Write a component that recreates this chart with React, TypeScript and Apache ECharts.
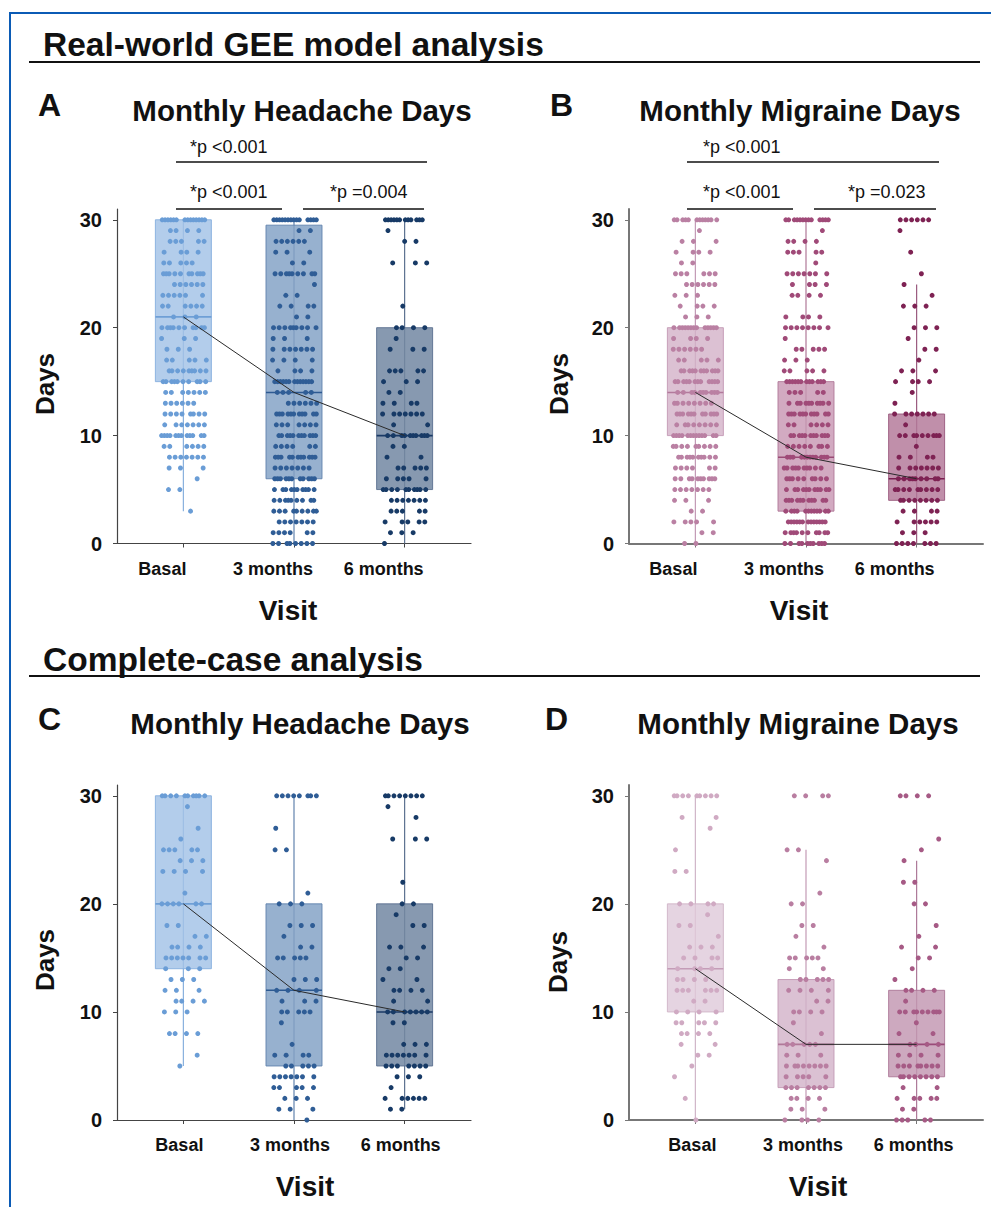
import React, { useEffect, useRef } from "react";
import * as echarts from "echarts";

// ---------- data ----------
const visits = ["Basal", "3 months", "6 months"];
const visitPositions = [1, 2, 3];
const yTicks = [0, 10, 20, 30];

// box stats: [lower whisker, Q1, median, Q3, upper whisker]
const boxA = [[3, 15, 21, 30, 30], [0, 6, 14, 29.5, 30], [0, 5, 10, 20, 30]];
const boxB = [[0, 10, 14, 20, 30], [0, 3, 8, 15, 30], [0, 4, 6, 12, 24]];
const boxC = [[5, 14, 20, 30, 30], [0, 5, 12, 20, 30], [1, 5, 10, 20, 30]];
const boxD = [[0, 10, 14, 20, 30], [0, 3, 7, 13, 25], [0, 4, 7, 12, 24]];

// individual observations: [days, number of patients]
const A_basal = [[30,14],[29,4],[28,5],[27,4],[26,5],[25,10],[24,6],[23,6],[22,6],[21,3],[20,10],[19,3],[18,3],[17,5],[16,9],[15,10],[14,7],[13,6],[12,8],[11,7],[10,12],[9,6],[8,7],[7,3],[6,1],[5,2],[3,1]];
const A_3m = [[30,14],[29,2],[28,6],[27,3],[26,2],[25,9],[24,1],[23,2],[22,4],[21,2],[20,9],[19,3],[18,7],[17,4],[16,4],[15,13],[14,5],[13,6],[12,11],[11,7],[10,11],[9,6],[8,11],[7,7],[6,11],[5,10],[4,9],[3,9],[2,7],[1,6],[0,8]];
const A_6m = [[30,12],[29,1],[28,2],[26,3],[22,1],[20,4],[19,1],[18,3],[16,5],[15,3],[14,2],[13,4],[12,7],[11,2],[10,10],[9,2],[8,2],[7,5],[6,5],[5,10],[4,7],[3,5],[2,5],[1,3],[0,1]];

const B_basal = [[30,12],[29,1],[28,3],[27,4],[26,2],[25,6],[24,6],[23,3],[22,4],[21,3],[20,13],[19,4],[18,6],[17,5],[16,11],[15,12],[14,10],[13,8],[12,11],[11,8],[10,13],[9,9],[8,10],[7,6],[6,10],[5,7],[4,3],[3,2],[2,5],[1,2],[0,2]];
const B_3m = [[30,13],[29,1],[28,4],[27,5],[26,1],[25,7],[24,4],[23,4],[21,4],[20,8],[19,1],[18,5],[17,3],[16,5],[15,12],[14,5],[13,10],[12,11],[11,6],[10,11],[9,8],[8,12],[7,10],[6,9],[5,11],[4,11],[3,12],[2,13],[1,10],[0,10]];
const B_6m = [[30,6],[29,1],[27,1],[25,1],[24,1],[23,1],[22,3],[20,3],[19,1],[18,2],[17,1],[16,3],[15,4],[14,1],[13,1],[12,7],[11,1],[10,9],[9,1],[8,4],[7,7],[6,9],[5,9],[4,8],[3,4],[2,6],[1,3],[0,7]];

const C_basal = [[30,10],[29,1],[27,1],[26,1],[25,5],[24,3],[23,4],[21,1],[20,6],[18,2],[17,2],[16,4],[15,7],[14,3],[13,3],[12,3],[11,4],[10,3],[8,4],[6,1],[5,1]];
const C_3m = [[30,8],[27,1],[25,2],[21,1],[20,3],[18,3],[17,1],[16,2],[15,5],[13,3],[12,4],[11,3],[10,5],[9,1],[7,1],[6,4],[5,5],[4,7],[3,5],[2,3],[1,3],[0,1]];
const C_6m = [[30,8],[29,1],[28,1],[26,3],[22,1],[20,2],[19,1],[18,2],[16,3],[15,2],[14,2],[13,2],[12,4],[11,2],[10,7],[9,2],[7,3],[6,7],[5,7],[4,3],[3,1],[2,6],[1,2]];

const D_basal = [[30,9],[28,2],[27,1],[25,1],[23,2],[20,4],[19,1],[18,2],[17,1],[16,3],[15,4],[14,4],[13,4],[12,6],[11,2],[10,4],[9,5],[8,4],[7,2],[6,2],[5,1],[4,1],[2,1],[0,1]];
const D_3m = [[30,4],[25,2],[24,1],[21,1],[20,2],[18,2],[17,1],[16,1],[15,5],[14,2],[13,5],[12,4],[11,2],[10,4],[9,1],[8,1],[7,5],[6,3],[5,8],[4,5],[3,7],[2,4],[1,3],[0,4]];
const D_6m = [[30,4],[26,1],[25,1],[24,1],[22,2],[20,2],[18,1],[17,1],[16,2],[15,2],[14,1],[13,1],[12,4],[11,1],[10,9],[9,1],[8,2],[7,4],[6,4],[5,8],[4,8],[3,2],[2,5],[1,2],[0,5]];

// ---------- styles ----------
const FONT = "'Liberation Sans', Arial, Helvetica, sans-serif";
const BLUE = [
  { fill: "#adc9e9", border: "#88b0de", dot: "#6a9dd6", median: "#6f9fd6" },
  { fill: "#8eaacb", border: "#6283ae", dot: "#2f5d96", median: "#2d5a92" },
  { fill: "#7d90a9", border: "#5c7190", dot: "#173a66", median: "#1a3a66" },
];
const MAUVE = [
  { fill: "#d9bccf", border: "#c39ab5", dot: "#ba80a3", median: "#b27a9c" },
  { fill: "#cea3bc", border: "#b07898", dot: "#a04a78", median: "#9a4a75" },
  { fill: "#bb86a3", border: "#9a5a7e", dot: "#7e2253", median: "#7a1e50" },
];
const MAUVE_LIGHT = [
  { fill: "#e3d0de", border: "#d0b5c8", dot: "#d0aac3", median: "#c49cb7" },
  { fill: "#d8bccf", border: "#c39ab5", dot: "#b97ea1", median: "#b07898" },
  { fill: "#c9a2ba", border: "#ad7898", dot: "#a65a85", median: "#9a4a78" },
];

const panels = [
  { grid: { left: 117, top: 209, width: 354, height: 334.5 }, box: boxA, dots: [A_basal, A_3m, A_6m], colors: BLUE, axis: { color: "#444", width: 1.2 }, labelShift: 21 },
  { grid: { left: 629, top: 209, width: 354, height: 334.5 }, box: boxB, dots: [B_basal, B_3m, B_6m], colors: MAUVE, axis: { color: "#777", width: 2 }, labelShift: 22 },
  { grid: { left: 117, top: 785, width: 354, height: 335 }, box: boxC, dots: [C_basal, C_3m, C_6m], colors: BLUE, axis: { color: "#444", width: 1.2 }, labelShift: 4 },
  { grid: { left: 629, top: 785, width: 354, height: 335 }, box: boxD, dots: [D_basal, D_3m, D_6m], colors: MAUVE_LIGHT, axis: { color: "#777", width: 2 }, labelShift: 3 },
];

// deterministic horizontal spread (van der Corput ordering, rotated per row) for overlapping points
function vdc(k: number) {
  let v = 0, d = 0.5;
  while (k > 0) { if (k & 1) v += d; k >>= 1; d /= 2; }
  return v;
}
function spreadPoints(levels: number[][], gi: number) {
  const pts: number[][] = [];
  const x0 = visitPositions[gi];
  levels.forEach(([v, n]) => {
    const phase = (v * 0.381966 + gi * 0.2718) % 1;
    for (let i = 0; i < n; i++) {
      const u = (vdc(i + 1) + phase) % 1;
      pts.push([x0 - 0.2 + 0.41 * u, v]);
    }
  });
  return pts;
}

function buildOption() {
  const grid: any[] = [];
  const xAxis: any[] = [];
  const yAxis: any[] = [];
  const series: any[] = [];

  panels.forEach((p, pi) => {
    grid.push({ ...p.grid, containLabel: false, outerBoundsMode: "none" });
    xAxis.push({
      gridIndex: pi, type: "value", min: 0.4, max: 3.6,
      splitLine: { show: false },
      axisLine: { show: true, onZero: false, lineStyle: { color: p.axis.color, width: p.axis.width } },
      axisTick: { show: true, customValues: visitPositions, length: 4, lineStyle: { color: p.axis.color } },
      axisLabel: {
        customValues: visitPositions,
        formatter: (v: number) => visits[Math.round(v) - 1] ?? "",
        fontFamily: FONT, fontWeight: "bold", fontSize: 18, color: "#111",
        margin: 16, padding: [0, p.labelShift * 2, 0, 0],
      },
    });
    yAxis.push({
      gridIndex: pi, type: "value", min: 0, max: 31,
      splitLine: { show: false },
      axisLine: { show: true, onZero: false, lineStyle: { color: p.axis.color, width: p.axis.width } },
      axisTick: { show: true, customValues: yTicks, length: 4, lineStyle: { color: p.axis.color } },
      axisLabel: { customValues: yTicks, fontFamily: FONT, fontWeight: "bold", fontSize: 20, color: "#111", margin: 15 },
    });

    const cols = p.colors;
    series.push({
      type: "custom", xAxisIndex: pi, yAxisIndex: pi, z: 2, silent: true,
      data: p.box.map((b, i) => [visitPositions[i], ...b]),
      renderItem: (params: any, api: any) => {
        const c = cols[params.dataIndex];
        const x = api.value(0);
        const lo = api.coord([x, api.value(1)]);
        const q1 = api.coord([x, api.value(2)]);
        const md = api.coord([x, api.value(3)]);
        const q3 = api.coord([x, api.value(4)]);
        const hi = api.coord([x, api.value(5)]);
        const hw = api.size([0.253, 0])[0];
        return {
          type: "group",
          children: [
            { type: "line", shape: { x1: lo[0], y1: lo[1], x2: hi[0], y2: hi[1] }, style: { stroke: c.border, lineWidth: 1.2 } },
            { type: "rect", shape: { x: lo[0] - hw, y: q3[1], width: hw * 2, height: q1[1] - q3[1] }, style: { fill: c.fill, opacity: 0.92, stroke: c.border, lineWidth: 1 } },
            { type: "line", shape: { x1: lo[0], y1: q3[1], x2: lo[0], y2: q1[1] }, style: { stroke: c.border, lineWidth: 1, opacity: 0.35 } },
            { type: "line", shape: { x1: md[0] - hw, y1: md[1], x2: md[0] + hw, y2: md[1] }, style: { stroke: c.median, lineWidth: 1.6 } },
          ],
        };
      },
    });
    p.dots.forEach((levels, gi) => {
      series.push({
        type: "scatter", xAxisIndex: pi, yAxisIndex: pi, z: 3, silent: true,
        symbolSize: 5, itemStyle: { color: cols[gi].dot, opacity: 1 },
        data: spreadPoints(levels, gi),
      });
    });
    series.push({
      type: "line", xAxisIndex: pi, yAxisIndex: pi, z: 4, silent: true,
      symbol: "none", lineStyle: { color: "#2a2a2a", width: 1 },
      data: p.box.map((b, i) => [visitPositions[i], b[2]]),
    });
  });

  const txt = (text: string, x: number, y: number, size: number, weight: string, align = "left", extra: any = {}) => ({
    type: "text", x, y, ...extra,
    style: { text, fill: "#111", fontFamily: FONT, fontSize: size, fontWeight: weight, textAlign: align, textVerticalAlign: "middle" },
  });
  const hline = (x1: number, x2: number, y: number, w = 1.5, color = "#111") => ({
    type: "line", shape: { x1, y1: y, x2, y2: y }, style: { stroke: color, lineWidth: w },
  });

  const graphic: any[] = [
    { type: "rect", shape: { x: 9, y: 12, width: 990, height: 2 }, style: { fill: "#0b5bb5" } },
    { type: "rect", shape: { x: 9, y: 12, width: 2, height: 1200 }, style: { fill: "#0b5bb5" } },
    txt("Real-world GEE model analysis", 43, 44, 33.5, "bold"),
    { type: "rect", shape: { x: 29, y: 61, width: 951, height: 2 }, style: { fill: "#111" } },
    txt("Complete-case analysis", 43, 659, 33.5, "bold"),
    { type: "rect", shape: { x: 29, y: 675, width: 951, height: 2 }, style: { fill: "#111" } },

    txt("A", 38, 105, 32, "bold"),
    txt("Monthly Headache Days", 302, 110, 29.5, "bold", "center"),
    txt("B", 550, 105, 32, "bold"),
    txt("Monthly Migraine Days", 800, 110, 29.5, "bold", "center"),
    txt("C", 38, 719, 32, "bold"),
    txt("Monthly Headache Days", 300, 723, 29.5, "bold", "center"),
    txt("D", 545, 719, 32, "bold"),
    txt("Monthly Migraine Days", 798, 723, 29.5, "bold", "center"),

    txt("*p <0.001", 190, 147, 18, "normal"),
    hline(176, 427, 162),
    txt("*p <0.001", 190, 192, 18, "normal"),
    hline(176, 282, 209),
    txt("*p =0.004", 330, 192, 18, "normal"),
    hline(303, 424, 209),

    txt("*p <0.001", 703, 147, 18, "normal"),
    hline(687, 939, 162),
    txt("*p <0.001", 703, 192, 18, "normal"),
    hline(687, 793, 209),
    txt("*p =0.023", 848, 192, 18, "normal"),
    hline(814, 936, 209),

    txt("Visit", 288, 610, 28, "bold", "center"),
    txt("Visit", 799, 610, 28, "bold", "center"),
    txt("Visit", 305, 1186, 28, "bold", "center"),
    txt("Visit", 818, 1186, 28, "bold", "center"),
    txt("Days", 45, 384, 26, "bold", "center", { rotation: Math.PI / 2 }),
    txt("Days", 559, 384, 26, "bold", "center", { rotation: Math.PI / 2 }),
    txt("Days", 45, 960, 26, "bold", "center", { rotation: Math.PI / 2 }),
    txt("Days", 558, 962, 26, "bold", "center", { rotation: Math.PI / 2 }),
  ];

  return { animation: false, backgroundColor: "#ffffff", grid, xAxis, yAxis, series, graphic };
}

export default function App() {
  const ref = useRef<HTMLDivElement>(null);
  useEffect(() => {
    if (!ref.current) return;
    const chart = echarts.init(ref.current, null, { renderer: "svg" });
    chart.setOption(buildOption() as any);
    return () => chart.dispose();
  }, []);
  return (
    <div
      ref={ref}
      style={{ position: "absolute", left: 0, top: 0, width: 991, height: 1207, background: "#fff" }}
    />
  );
}
